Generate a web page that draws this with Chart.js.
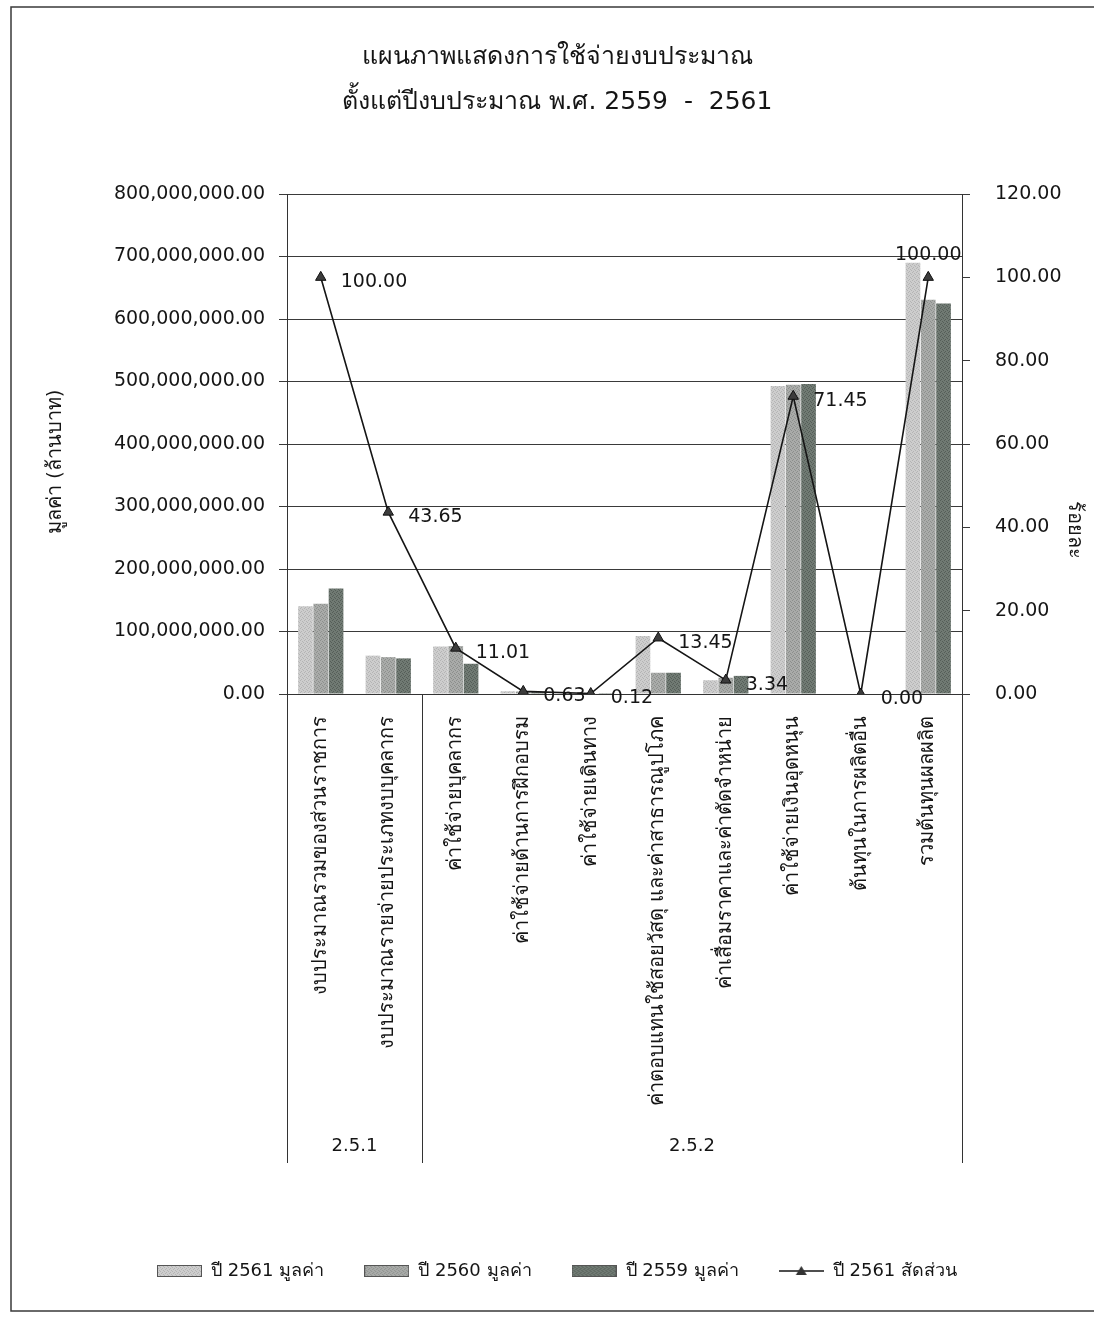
<!DOCTYPE html>
<html lang="th">
<head>
<meta charset="utf-8">
<title>แผนภาพแสดงการใช้จ่ายงบประมาณ</title>
<script src="https://cdn.jsdelivr.net/npm/chart.js@4.4.1/dist/chart.umd.min.js"></script>
<style>
  html, body { margin: 0; padding: 0; background: #fff; }
  #wrap { width: 1094px; height: 1317px; }
</style>
</head>
<body>
<div id="wrap"><canvas id="budgetChart" width="1094" height="1317"></canvas></div>
<script>
// หมวดค่าใช้จ่าย
const categories = [
  'งบประมาณรวมของส่วนราชการ',
  'งบประมาณรายจ่ายประเภทงบบุคลากร',
  'ค่าใช้จ่ายบุคลากร',
  'ค่าใช้จ่ายด้านการฝึกอบรม',
  'ค่าใช้จ่ายเดินทาง',
  'ค่าตอบแทนใช้สอยวัสดุ และค่าสาธารณูปโภค',
  'ค่าเสื่อมราคาและค่าตัดจำหน่าย',
  'ค่าใช้จ่ายเงินอุดหนุน',
  'ต้นทุนในการผลิตอื่น',
  'รวมต้นทุนผลผลิต'
];
const groupNames = ['2.5.1', '2.5.2'];
const groupStart = [0, 2];

// มูลค่า (บาท)
const value2561 = [140600000, 61400000, 76000000, 4350000, 830000, 92800000, 22000000, 493000000, 0, 690000000];
const value2560 = [144300000, 59000000, 76700000, 4000000, 1000000, 34000000, 26000000, 495000000, 0, 631000000];
const value2559 = [168800000, 57000000, 48400000, 3000000, 1500000, 34000000, 29000000, 496000000, 0, 625000000];
// สัดส่วน ปี 2561 (ร้อยละ)
const share2561 = [100.00, 43.65, 11.01, 0.63, 0.12, 13.45, 3.34, 71.45, 0.00, 100.00];

const leftMax = 800000000, leftStep = 100000000;
const rightMax = 120, rightStep = 20;

const FONT = "'DejaVu Sans', 'Noto Sans', sans-serif";
const INK = '#151515';

// ลายเม็ดเล็ก ๆ ให้แท่งดูเหมือนงานพิมพ์
function makeTile(base, dot) {
  const c = document.createElement('canvas');
  c.width = 4; c.height = 4;
  const g = c.getContext('2d');
  g.fillStyle = base; g.fillRect(0, 0, 4, 4);
  g.fillStyle = dot;
  g.fillRect(0, 0, 1, 1); g.fillRect(2, 1, 1, 1); g.fillRect(1, 3, 1, 1); g.fillRect(3, 2, 1, 1);
  return c;
}
const ctx = document.getElementById('budgetChart').getContext('2d');
const tiles = [
  makeTile('#cdcdcd', '#b4b4b4'),
  makeTile('#a9aba9', '#8c8f8c'),
  makeTile('#707a73', '#555e58')
];
const fills = tiles.map(t => ctx.createPattern(t, 'repeat'));

function swatch(tile) {
  const c = document.createElement('canvas');
  c.width = 45; c.height = 12;
  const g = c.getContext('2d');
  g.fillStyle = g.createPattern(tile, 'repeat');
  g.fillRect(0, 0, 45, 12);
  g.strokeStyle = '#555'; g.lineWidth = 1;
  g.strokeRect(0.5, 0.5, 44, 11);
  return c;
}
function lineSwatch() {
  const c = document.createElement('canvas');
  c.width = 45; c.height = 12;
  const g = c.getContext('2d');
  g.strokeStyle = INK; g.lineWidth = 1.5;
  g.beginPath(); g.moveTo(0, 6); g.lineTo(45, 6); g.stroke();
  g.fillStyle = '#333';
  g.beginPath(); g.moveTo(22.5, 1); g.lineTo(28, 10); g.lineTo(17, 10); g.closePath(); g.fill();
  return c;
}
const legendIcons = [swatch(tiles[0]), swatch(tiles[1]), swatch(tiles[2]), lineSwatch()];

// เส้นแบ่งกลุ่ม ป้ายกลุ่ม กรอบ และชื่อแกน
const decorations = {
  id: 'decorations',
  afterDraw(chart) {
    const { ctx, chartArea: a, scales: { x } } = chart;
    const half = (x.getPixelForValue(1) - x.getPixelForValue(0)) / 2;
    const depth = 469;
    ctx.save();
    ctx.strokeStyle = '#333';
    ctx.lineWidth = 1;
    const edges = groupStart.map(i => x.getPixelForValue(i) - half).concat([a.right]);
    edges.forEach(px => {
      ctx.beginPath();
      ctx.moveTo(Math.round(px) + 0.5, a.bottom);
      ctx.lineTo(Math.round(px) + 0.5, a.bottom + depth);
      ctx.stroke();
    });
    ctx.fillStyle = INK;
    ctx.font = '18px ' + FONT;
    ctx.textAlign = 'center';
    ctx.textBaseline = 'middle';
    groupNames.forEach((name, k) => {
      ctx.fillText(name, (edges[k] + edges[k + 1]) / 2, a.bottom + 452);
    });

    // ชื่อแกน
    ctx.font = '20px ' + FONT;
    ctx.save();
    ctx.translate(56, 462);
    ctx.rotate(-Math.PI / 2);
    ctx.fillText('มูลค่า (ล้านบาท)', 0, 0);
    ctx.restore();
    ctx.save();
    ctx.translate(1074, 530);
    ctx.rotate(Math.PI / 2);
    ctx.fillText('ร้อยละ', 0, 0);
    ctx.restore();

    // กรอบภาพ
    ctx.strokeStyle = '#3a3a3a';
    ctx.lineWidth = 1.5;
    ctx.beginPath();
    ctx.moveTo(1094, 7);
    ctx.lineTo(11, 7);
    ctx.lineTo(11, 1311);
    ctx.lineTo(1094, 1311);
    ctx.stroke();
    ctx.restore();
  }
};

// ป้ายค่าร้อยละบนเส้น
const shareLabels = {
  id: 'shareLabels',
  afterDatasetsDraw(chart) {
    const meta = chart.getDatasetMeta(3);
    const ctx = chart.ctx;
    ctx.save();
    ctx.fillStyle = INK;
    ctx.font = '19px ' + FONT;
    ctx.textBaseline = 'middle';
    meta.data.forEach((pt, i) => {
      const txt = share2561[i].toFixed(2);
      if (i === meta.data.length - 1) {
        ctx.textAlign = 'center';
        ctx.fillText(txt, pt.x, pt.y - 22);
      } else {
        ctx.textAlign = 'left';
        ctx.fillText(txt, pt.x + 20, pt.y + 5);
      }
    });
    ctx.restore();
  }
};

new Chart(ctx, {
  type: 'bar',
  data: {
    labels: categories,
    datasets: [
      { label: 'ปี 2561 มูลค่า', data: value2561, backgroundColor: fills[0], order: 1, yAxisID: 'y' },
      { label: 'ปี 2560 มูลค่า', data: value2560, backgroundColor: fills[1], order: 1, yAxisID: 'y' },
      { label: 'ปี 2559 มูลค่า', data: value2559, backgroundColor: fills[2], order: 1, yAxisID: 'y' },
      {
        type: 'line',
        label: 'ปี 2561 สัดส่วน',
        data: share2561,
        yAxisID: 'y1',
        order: 0,
        borderColor: INK,
        borderWidth: 1.6,
        tension: 0,
        pointStyle: 'triangle',
        pointRadius: 6,
        pointBackgroundColor: '#3c3c3c',
        pointBorderColor: '#111',
        pointBorderWidth: 1
      }
    ]
  },
  options: {
    responsive: false,
    animation: false,
    layout: { padding: { left: 30, right: 10, top: 0, bottom: 27 } },
    datasets: { bar: { categoryPercentage: 0.68, barPercentage: 0.96 } },
    plugins: {
      tooltip: { enabled: false },
      title: {
        display: true,
        text: ['แผนภาพแสดงการใช้จ่ายงบประมาณ', 'ตั้งแต่ปีงบประมาณ พ.ศ. 2559  -  2561'],
        color: INK,
        font: { family: FONT, size: 25, weight: 'normal', lineHeight: 1.8 },
        padding: { top: 35, bottom: 69 }
      },
      legend: {
        position: 'bottom',
        labels: {
          color: INK,
          font: { family: FONT, size: 18 },
          usePointStyle: true,
          pointStyleWidth: 45,
          boxHeight: 12,
          padding: 40,
          sort: (a, b) => a.datasetIndex - b.datasetIndex,
          generateLabels: chart => chart.data.datasets.map((ds, i) => ({
            text: ds.label,
            datasetIndex: i,
            pointStyle: legendIcons[i],
            fillStyle: '#fff',
            strokeStyle: '#fff',
            lineWidth: 0,
            hidden: false,
            fontColor: INK
          }))
        }
      }
    },
    scales: {
      x: {
        grid: { display: false },
        border: { display: true, color: '#333', width: 1 },
        ticks: {
          color: INK,
          font: { family: FONT, size: 20 },
          minRotation: 90,
          maxRotation: 90,
          autoSkip: false,
          padding: 14
        },
        afterFit: s => { s.height = 528; }
      },
      y: {
        position: 'left',
        min: 0,
        max: leftMax,
        grid: { color: '#3a3a3a', lineWidth: 1, tickLength: 8 },
        border: { display: true, color: '#333', width: 1 },
        ticks: {
          stepSize: leftStep,
          color: INK,
          font: { family: FONT, size: 19 },
          padding: 14,
          callback: v => Number(v).toLocaleString('en-US', { minimumFractionDigits: 2, maximumFractionDigits: 2 })
        },
        afterFit: s => { s.width = 257; }
      },
      y1: {
        position: 'right',
        min: 0,
        max: rightMax,
        grid: { drawOnChartArea: false, color: '#3a3a3a', tickLength: 8 },
        border: { display: true, color: '#333', width: 1 },
        ticks: {
          stepSize: rightStep,
          color: INK,
          font: { family: FONT, size: 19 },
          padding: 25,
          callback: v => Number(v).toFixed(2)
        },
        afterFit: s => { s.width = 122; }
      }
    }
  },
  plugins: [decorations, shareLabels]
});
</script>
</body>
</html>
